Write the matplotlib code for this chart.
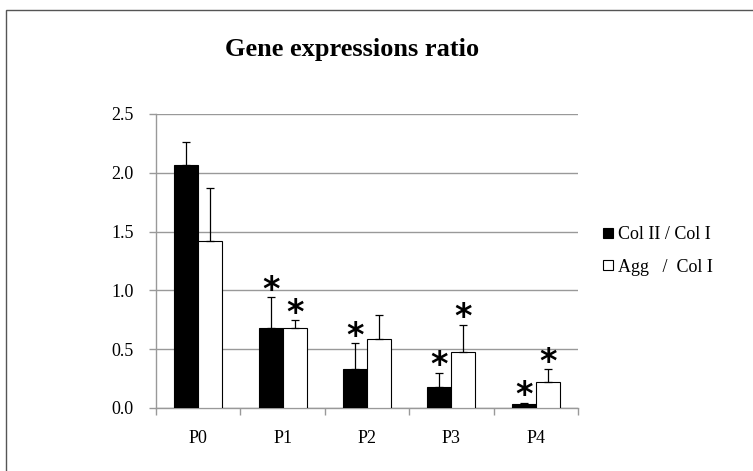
import matplotlib
matplotlib.use("Agg")
import matplotlib.pyplot as plt
from matplotlib.lines import Line2D
from matplotlib.patches import Rectangle
import numpy as np

categories = ["P0", "P1", "P2", "P3", "P4"]
col2_col1 = [2.07, 0.68, 0.33, 0.18, 0.03]
col2_err = [0.19, 0.26, 0.22, 0.12, 0.015]
agg_col1 = [1.42, 0.68, 0.59, 0.48, 0.22]
agg_err = [0.45, 0.07, 0.20, 0.23, 0.11]
col2_sig = [False, True, True, True, True]
agg_sig = [False, True, False, True, True]
y_ticks = [0.0, 0.5, 1.0, 1.5, 2.0, 2.5]
y_ticklabels = ["0.0", "0.5", "1.0", "1.5", "2.0", "2.5"]
title = "Gene expressions ratio"
labels = ["Col II / Col I", "Agg   /  Col I"]

plt.rcParams['font.family'] = ['Liberation Serif', 'DejaVu Serif']

fig = plt.figure(figsize=(7.53, 4.71), dpi=100)
ax = fig.add_axes([156/753, 1-408/471, (578-156)/753, (408-114)/471])

x = np.arange(len(categories))
w = 0.285
grid_c = "#999999"

ax.bar(x - w/2, col2_col1, w, color="black", edgecolor="black", linewidth=0.8, zorder=3)
ax.bar(x + w/2, agg_col1, w, color="white", edgecolor="black", linewidth=0.8, zorder=3)
ax.errorbar(x - w/2, col2_col1, yerr=[np.zeros(5), col2_err], fmt="none",
            ecolor="black", elinewidth=0.9, capsize=3, capthick=0.9, zorder=4)
ax.errorbar(x + w/2, agg_col1, yerr=[np.zeros(5), agg_err], fmt="none",
            ecolor="black", elinewidth=0.9, capsize=3, capthick=0.9, zorder=4)

def star(xp, top):
    ax.annotate("*", xy=(xp, top), xytext=(0, -2), textcoords="offset points",
                ha="center", va="baseline", fontsize=24, fontweight="bold",
                fontfamily="DejaVu Sans", zorder=5)

for i in range(len(categories)):
    if col2_sig[i]:
        star(x[i] - w/2, col2_col1[i] + col2_err[i])
    if agg_sig[i]:
        star(x[i] + w/2, agg_col1[i] + agg_err[i])

ax.set_xlim(-0.5, len(categories) - 0.5)
ax.set_ylim(0, 2.5)
ax.set_yticks(y_ticks)
ax.set_yticklabels(y_ticklabels, fontsize=13)
ax.set_xticks(x)
ax.set_xticklabels(categories, fontsize=13)
ax.set_xticks(np.arange(-0.5, len(categories)), minor=True)
ax.tick_params(axis="x", which="major", length=0, pad=16)
ax.tick_params(axis="x", which="minor", length=5, color=grid_c, width=1)
ax.tick_params(axis="y", length=5, color=grid_c, width=1, pad=11)
ax.yaxis.grid(True, color=grid_c, linewidth=1)
ax.set_axisbelow(True)
for s in ["top", "right"]:
    ax.spines[s].set_visible(False)
for s in ["left", "bottom"]:
    ax.spines[s].set_color(grid_c)
    ax.spines[s].set_linewidth(1)

fig.text(352/753, 1-56/471, title, ha="center", va="baseline", fontsize=19, fontweight="bold")

handles = [Line2D([], [], marker="s", linestyle="none", markersize=6.5,
                  markerfacecolor="black", markeredgecolor="black", markeredgewidth=0.8),
           Line2D([], [], marker="s", linestyle="none", markersize=6.5,
                  markerfacecolor="white", markeredgecolor="black", markeredgewidth=0.8)]
fig.legend(handles, labels, loc="center left", bbox_to_anchor=(594/753, 1-251/471),
           frameon=False, fontsize=13, handlelength=0.6, handletextpad=0.25,
           labelspacing=0.85, borderpad=0)

fig.patches.append(Rectangle((6/753, -0.1), 1.2, 1 - 10/471 + 0.1, transform=fig.transFigure,
                             fill=False, edgecolor="#555555", linewidth=1))

fig.savefig("out.png", dpi=100)
